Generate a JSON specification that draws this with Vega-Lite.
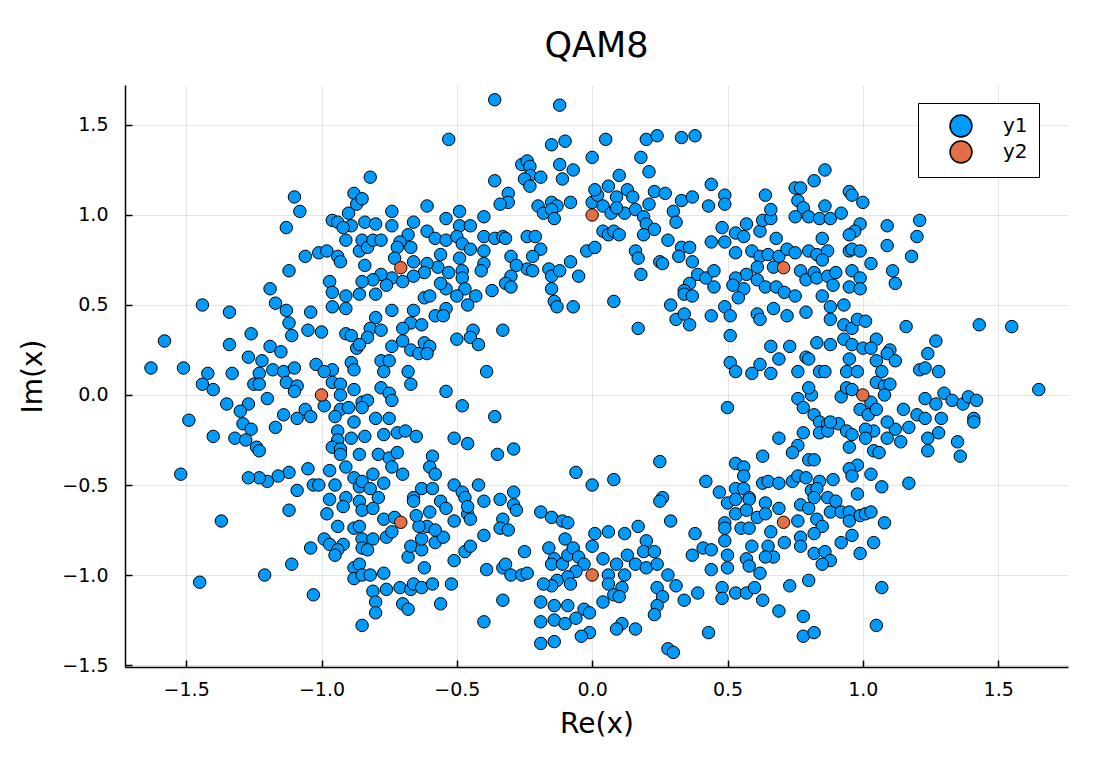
{
"$schema":"https://vega.github.io/schema/vega-lite/v6.json",
"width":943,"height":582,
"autosize":"none",
"padding":{"left":125,"top":85,"right":40,"bottom":98},
"background":"white",
"config":{"view":{"stroke":null},"font":"DejaVu Sans"},
"title":{"text":"QAM8","fontSize":35,"fontWeight":"normal","font":"DejaVu Sans","color":"black","anchor":"middle","baseline":"alphabetic","offset":-7},
"datasets":{
"noisy":[
{"re":-1.10,"im":1.10},{"re":-1.08,"im":1.02},{"re":-1.13,"im":0.93},{"re":-0.96,"im":0.97},{"re":-0.94,"im":0.96},{"re":-0.90,"im":1.01},{"re":-0.88,"im":1.12},{"re":-0.87,"im":1.06},{"re":-0.89,"im":0.94},{"re":-0.92,"im":0.93},{"re":-0.91,"im":0.86},{"re":-0.86,"im":0.80},{"re":-0.85,"im":0.86},{"re":-1.06,"im":0.77},{"re":-1.01,"im":0.79},{"re":-0.98,"im":0.80},{"re":-0.94,"im":0.77},{"re":-0.93,"im":0.74},{"re":-1.12,"im":0.69},{"re":-0.97,"im":0.63},{"re":-0.96,"im":0.57},{"re":-0.91,"im":0.55},{"re":-0.96,"im":0.49},{"re":-0.91,"im":0.48},{"re":-1.19,"im":0.59},{"re":-1.17,"im":0.51},{"re":-1.13,"im":0.47},{"re":-1.12,"im":0.40},{"re":-1.11,"im":0.33},{"re":-1.04,"im":0.46},{"re":-1.05,"im":0.36},{"re":-1.00,"im":0.35},{"re":-1.44,"im":0.50},{"re":-1.34,"im":0.46},{"re":-1.58,"im":0.30},{"re":-1.26,"im":0.34},{"re":-1.34,"im":0.28},{"re":-1.27,"im":0.21},{"re":-1.22,"im":0.19},{"re":-1.19,"im":0.27},{"re":-1.15,"im":0.24},{"re":-1.63,"im":0.15},{"re":-1.51,"im":0.15},{"re":-1.42,"im":0.12},{"re":-1.33,"im":0.12},{"re":-1.23,"im":0.12},{"re":-1.18,"im":0.14},{"re":-1.14,"im":0.13},{"re":-1.10,"im":0.15},{"re":-1.02,"im":0.17},{"re":-0.96,"im":0.14},{"re":-0.99,"im":0.13},{"re":-0.91,"im":0.34},{"re":-0.89,"im":0.33},{"re":-0.87,"im":0.26},{"re":-0.89,"im":0.18},{"re":-0.88,"im":0.14},
{"re":-0.36,"im":1.64},{"re":-0.12,"im":1.61},{"re":-0.53,"im":1.42},{"re":-0.15,"im":1.39},{"re":-0.10,"im":1.41},{"re":0.00,"im":1.32},{"re":-0.26,"im":1.28},{"re":-0.24,"im":1.30},{"re":-0.23,"im":1.27},{"re":-0.12,"im":1.28},{"re":-0.07,"im":1.25},{"re":-0.23,"im":1.22},{"re":-0.19,"im":1.21},{"re":-0.11,"im":1.20},{"re":-0.25,"im":1.20},{"re":-0.23,"im":1.16},{"re":-0.36,"im":1.19},{"re":-0.82,"im":1.21},{"re":-0.31,"im":1.12},{"re":-0.31,"im":1.07},{"re":-0.34,"im":1.06},{"re":-0.20,"im":1.05},{"re":-0.18,"im":1.01},{"re":-0.15,"im":1.07},{"re":-0.13,"im":1.05},{"re":-0.15,"im":1.03},{"re":-0.14,"im":0.98},{"re":-0.08,"im":1.07},{"re":0.00,"im":1.07},{"re":0.02,"im":1.11},{"re":-0.85,"im":1.09},{"re":-0.74,"im":1.02},{"re":-0.61,"im":1.05},{"re":-0.54,"im":0.98},{"re":-0.49,"im":1.02},{"re":-0.40,"im":0.99},{"re":-0.84,"im":0.96},{"re":-0.80,"im":0.95},{"re":-0.74,"im":0.94},{"re":-0.66,"im":0.96},{"re":-0.68,"im":0.89},{"re":-0.61,"im":0.91},{"re":-0.58,"im":0.87},{"re":-0.49,"im":0.94},{"re":-0.45,"im":0.94},{"re":-0.54,"im":0.86},{"re":-0.50,"im":0.88},{"re":-0.48,"im":0.84},{"re":-0.45,"im":0.81},{"re":-0.40,"im":0.88},{"re":-0.40,"im":0.80},{"re":-0.36,"im":0.87},{"re":-0.33,"im":0.88},{"re":-0.32,"im":0.87},{"re":-0.24,"im":0.88},{"re":-0.21,"im":0.88},{"re":-0.19,"im":0.81},{"re":-0.22,"im":0.77},{"re":-0.24,"im":0.70},{"re":-0.22,"im":0.69},{"re":-0.30,"im":0.77},{"re":-0.28,"im":0.72},{"re":-0.30,"im":0.66},{"re":-0.32,"im":0.62},{"re":-0.30,"im":0.60},{"re":-0.37,"im":0.58},{"re":-0.40,"im":0.73},{"re":-0.41,"im":0.69},{"re":-0.49,"im":0.76},{"re":-0.56,"im":0.78},{"re":-0.57,"im":0.71},{"re":-0.53,"im":0.68},{"re":-0.48,"im":0.69},{"re":-0.48,"im":0.65},{"re":-0.47,"im":0.59},{"re":-0.50,"im":0.55},{"re":-0.46,"im":0.50},{"re":-0.43,"im":0.55},{"re":-0.54,"im":0.59},{"re":-0.56,"im":0.62},{"re":-0.61,"im":0.73},{"re":-0.62,"im":0.68},{"re":-0.66,"im":0.66},{"re":-0.67,"im":0.82},{"re":-0.71,"im":0.85},{"re":-0.72,"im":0.82},{"re":-0.73,"im":0.76},{"re":-0.66,"im":0.74},{"re":-0.74,"im":0.65},{"re":-0.70,"im":0.63},{"re":-0.76,"im":0.61},{"re":-0.78,"im":0.67},{"re":-0.81,"im":0.64},{"re":-0.85,"im":0.63},{"re":-0.86,"im":0.56},{"re":-0.80,"im":0.56},{"re":-0.84,"im":0.72},{"re":-0.83,"im":0.82},{"re":-0.81,"im":0.86},{"re":-0.78,"im":0.86},{"re":-0.16,"im":0.70},{"re":-0.15,"im":0.66},{"re":-0.12,"im":0.69},{"re":-0.15,"im":0.59},{"re":-0.14,"im":0.52},{"re":-0.13,"im":0.49},{"re":-0.08,"im":0.74},{"re":-0.05,"im":0.66},{"re":-0.07,"im":0.49},{"re":-0.02,"im":0.80},{"re":0.01,"im":0.82},{"re":-0.62,"im":0.54},{"re":-0.60,"im":0.55},{"re":-0.74,"im":0.47},{"re":-0.66,"im":0.47},{"re":-0.67,"im":0.40},{"re":-0.63,"im":0.39},{"re":-0.70,"im":0.37},{"re":-0.58,"im":0.44},{"re":-0.54,"im":0.48},{"re":-0.55,"im":0.44},{"re":-0.80,"im":0.43},{"re":-0.82,"im":0.37},{"re":-0.78,"im":0.36},{"re":-0.83,"im":0.32},{"re":-0.86,"im":0.28},{"re":-0.74,"im":0.27},{"re":-0.70,"im":0.30},{"re":-0.67,"im":0.25},{"re":-0.62,"im":0.29},{"re":-0.60,"im":0.27},{"re":-0.64,"im":0.23},{"re":-0.61,"im":0.23},{"re":-0.78,"im":0.19},{"re":-0.75,"im":0.19},{"re":-0.77,"im":0.13},{"re":-0.68,"im":0.13},{"re":-0.50,"im":0.31},{"re":-0.44,"im":0.36},{"re":-0.45,"im":0.32},{"re":-0.42,"im":0.28},{"re":-0.33,"im":0.36},{"re":-0.39,"im":0.13},
{"re":0.05,"im":1.42},{"re":0.20,"im":1.42},{"re":0.24,"im":1.44},{"re":0.33,"im":1.43},{"re":0.38,"im":1.44},{"re":0.18,"im":1.32},{"re":0.21,"im":1.24},{"re":0.10,"im":1.22},{"re":0.01,"im":1.14},{"re":0.06,"im":1.16},{"re":0.09,"im":1.10},{"re":0.13,"im":1.14},{"re":0.15,"im":1.10},{"re":0.04,"im":1.05},{"re":0.07,"im":1.01},{"re":0.12,"im":1.01},{"re":0.09,"im":1.04},{"re":0.16,"im":1.03},{"re":0.21,"im":1.06},{"re":0.19,"im":0.99},{"re":0.20,"im":0.95},{"re":0.23,"im":1.13},{"re":0.27,"im":1.12},{"re":0.33,"im":1.08},{"re":0.37,"im":1.10},{"re":0.30,"im":1.02},{"re":0.31,"im":0.96},{"re":0.04,"im":0.91},{"re":0.06,"im":0.89},{"re":0.08,"im":0.91},{"re":0.10,"im":0.89},{"re":0.19,"im":0.89},{"re":0.23,"im":0.92},{"re":0.28,"im":0.86},{"re":0.33,"im":0.82},{"re":0.36,"im":0.82},{"re":0.32,"im":0.77},{"re":0.16,"im":0.80},{"re":0.17,"im":0.76},{"re":0.25,"im":0.74},{"re":0.26,"im":0.73},{"re":0.18,"im":0.67},{"re":0.37,"im":0.74},{"re":0.39,"im":0.67},{"re":0.36,"im":0.62},{"re":0.34,"im":0.58},{"re":0.34,"im":0.56},{"re":0.37,"im":0.55},{"re":0.42,"im":0.65},{"re":0.45,"im":0.69},{"re":0.45,"im":0.60},{"re":0.08,"im":0.52},{"re":0.29,"im":0.50},{"re":0.31,"im":0.42},{"re":0.34,"im":0.45},{"re":0.36,"im":0.39},{"re":0.17,"im":0.37},{"re":0.44,"im":1.17},{"re":0.43,"im":1.05},{"re":0.49,"im":1.11},{"re":0.49,"im":1.06},{"re":0.44,"im":0.85},{"re":0.48,"im":0.93},{"re":0.49,"im":0.85},{"re":0.53,"im":0.79},{"re":0.53,"im":0.90},{"re":0.56,"im":0.88},{"re":0.57,"im":0.95},{"re":0.62,"im":0.91},{"re":0.63,"im":0.97},{"re":0.66,"im":0.98},{"re":0.66,"im":1.03},{"re":0.64,"im":1.11},{"re":0.68,"im":0.87},{"re":0.59,"im":0.80},{"re":0.62,"im":0.77},{"re":0.65,"im":0.78},{"re":0.69,"im":0.77},{"re":0.72,"im":0.81},{"re":0.75,"im":0.79},{"re":0.80,"im":0.80},{"re":0.83,"im":0.78},{"re":0.87,"im":0.80},{"re":0.85,"im":0.75},{"re":0.61,"im":0.71},{"re":0.67,"im":0.71},{"re":0.57,"im":0.67},{"re":0.61,"im":0.64},{"re":0.53,"im":0.65},{"re":0.56,"im":0.59},{"re":0.54,"im":0.54},{"re":0.52,"im":0.61},{"re":0.64,"im":0.60},{"re":0.68,"im":0.60},{"re":0.71,"im":0.57},{"re":0.75,"im":0.55},{"re":0.77,"im":0.69},{"re":0.79,"im":0.64},{"re":0.82,"im":0.68},{"re":0.83,"im":0.65},{"re":0.87,"im":0.66},{"re":0.89,"im":0.61},{"re":0.85,"im":0.55},{"re":0.49,"im":0.49},{"re":0.51,"im":0.44},{"re":0.44,"im":0.44},{"re":0.51,"im":0.33},{"re":0.61,"im":0.45},{"re":0.62,"im":0.42},{"re":0.67,"im":0.48},{"re":0.72,"im":0.44},{"re":0.79,"im":0.46},{"re":0.88,"im":0.49},{"re":0.88,"im":0.42},{"re":0.66,"im":0.27},{"re":0.69,"im":0.20},{"re":0.73,"im":0.27},{"re":0.79,"im":0.21},{"re":0.80,"im":0.20},{"re":0.83,"im":0.29},{"re":0.88,"im":0.28},{"re":0.51,"im":0.18},{"re":0.53,"im":0.13},{"re":0.62,"im":0.17},{"re":0.59,"im":0.12},{"re":0.66,"im":0.12},{"re":0.76,"im":0.13},{"re":0.84,"im":0.13},{"re":0.86,"im":0.13},{"re":0.75,"im":1.15},{"re":0.77,"im":1.15},{"re":0.76,"im":1.08},{"re":0.78,"im":1.04},{"re":0.75,"im":0.99},{"re":0.80,"im":0.99},{"re":0.82,"im":1.19},{"re":0.86,"im":1.25},{"re":0.86,"im":1.05},{"re":0.84,"im":0.98},{"re":0.88,"im":0.98},{"re":0.85,"im":0.87},
{"re":0.95,"im":1.13},{"re":0.96,"im":1.11},{"re":1.00,"im":1.07},{"re":0.92,"im":1.01},{"re":0.99,"im":0.95},{"re":0.97,"im":0.91},{"re":0.95,"im":0.89},{"re":1.09,"im":0.94},{"re":1.21,"im":0.97},{"re":1.20,"im":0.88},{"re":1.09,"im":0.83},{"re":1.18,"im":0.77},{"re":0.95,"im":0.80},{"re":0.96,"im":0.81},{"re":0.99,"im":0.80},{"re":1.03,"im":0.73},{"re":1.11,"im":0.69},{"re":1.12,"im":0.62},{"re":0.90,"im":0.68},{"re":0.96,"im":0.69},{"re":0.99,"im":0.65},{"re":0.95,"im":0.60},{"re":0.99,"im":0.59},{"re":0.93,"im":0.50},{"re":0.93,"im":0.39},{"re":0.96,"im":0.37},{"re":0.98,"im":0.42},{"re":1.01,"im":0.41},{"re":1.16,"im":0.38},{"re":1.43,"im":0.39},{"re":1.55,"im":0.38},{"re":1.27,"im":0.30},{"re":1.24,"im":0.23},{"re":1.05,"im":0.31},{"re":0.93,"im":0.31},{"re":0.96,"im":0.28},{"re":1.00,"im":0.26},{"re":1.03,"im":0.26},{"re":1.10,"im":0.25},{"re":1.09,"im":0.23},{"re":1.12,"im":0.19},{"re":1.05,"im":0.19},{"re":0.95,"im":0.20},{"re":0.94,"im":0.13},{"re":0.98,"im":0.13},{"re":1.07,"im":0.13},{"re":1.21,"im":0.14},{"re":1.23,"im":0.15},{"re":1.28,"im":0.13},
{"re":-1.44,"im":0.06},{"re":-1.40,"im":0.03},{"re":-1.35,"im":-0.05},{"re":-1.25,"im":0.06},{"re":-1.23,"im":0.06},{"re":-1.20,"im":-0.02},{"re":-1.13,"im":0.07},{"re":-1.09,"im":0.05},{"re":-1.10,"im":0.02},{"re":-1.27,"im":-0.05},{"re":-1.30,"im":-0.09},{"re":-1.29,"im":-0.16},{"re":-1.26,"im":-0.19},{"re":-1.49,"im":-0.14},{"re":-1.40,"im":-0.23},{"re":-1.32,"im":-0.24},{"re":-1.28,"im":-0.25},{"re":-1.24,"im":-0.29},{"re":-1.23,"im":-0.31},{"re":-1.17,"im":-0.18},{"re":-1.14,"im":-0.11},{"re":-1.09,"im":-0.13},{"re":-1.06,"im":-0.08},{"re":-1.04,"im":-0.12},{"re":-0.99,"im":-0.06},{"re":-0.96,"im":0.07},{"re":-0.93,"im":0.06},{"re":-0.88,"im":0.03},{"re":-0.93,"im":0.00},{"re":-0.93,"im":-0.08},{"re":-0.90,"im":-0.07},{"re":-0.95,"im":-0.12},{"re":-0.88,"im":-0.15},{"re":-0.94,"im":-0.20},{"re":-0.94,"im":-0.25},{"re":-0.96,"im":-0.29},{"re":-0.93,"im":-0.30},{"re":-0.93,"im":-0.33},{"re":-0.89,"im":-0.24},{"re":-0.86,"im":-0.33},{"re":-0.91,"im":-0.40},{"re":-0.97,"im":-0.42},{"re":-1.05,"im":-0.41},{"re":-1.12,"im":-0.43},{"re":-1.16,"im":-0.45},{"re":-1.20,"im":-0.48},{"re":-1.23,"im":-0.46},{"re":-1.27,"im":-0.46},{"re":-1.52,"im":-0.44},{"re":-1.03,"im":-0.50},{"re":-1.01,"im":-0.50},{"re":-0.95,"im":-0.50},{"re":-1.09,"im":-0.53},{"re":-0.88,"im":-0.46},{"re":-0.86,"im":-0.51},{"re":-0.91,"im":-0.57},{"re":-0.97,"im":-0.58},{"re":-0.92,"im":-0.62},{"re":-0.86,"im":-0.59},{"re":-0.85,"im":-0.64},{"re":-1.12,"im":-0.64},{"re":-0.98,"im":-0.66},{"re":-0.94,"im":-0.73},{"re":-0.88,"im":-0.74},{"re":-0.86,"im":-0.73},{"re":-0.85,"im":-0.80},{"re":-0.99,"im":-0.80},{"re":-0.97,"im":-0.83},{"re":-0.92,"im":-0.83},{"re":-0.94,"im":-0.86},{"re":-0.95,"im":-0.89},{"re":-1.04,"im":-0.85},{"re":-0.85,"im":-0.85},{"re":-1.37,"im":-0.70},{"re":-1.11,"im":-0.94},{"re":-1.21,"im":-1.00},{"re":-1.45,"im":-1.04},{"re":-1.03,"im":-1.11},{"re":-0.88,"im":-0.96},{"re":-0.86,"im":-0.94},{"re":-0.88,"im":-1.02},{"re":-0.85,"im":-1.00},{"re":-0.85,"im":-1.28},
{"re":-0.67,"im":0.06},{"re":-0.78,"im":0.04},{"re":-0.75,"im":0.01},{"re":-0.74,"im":-0.03},{"re":-0.85,"im":-0.04},{"re":-0.83,"im":-0.03},{"re":-0.85,"im":-0.07},{"re":-0.54,"im":0.02},{"re":-0.48,"im":-0.06},{"re":-0.36,"im":-0.12},{"re":-0.80,"im":-0.13},{"re":-0.75,"im":-0.13},{"re":-0.84,"im":-0.23},{"re":-0.77,"im":-0.22},{"re":-0.72,"im":-0.21},{"re":-0.69,"im":-0.20},{"re":-0.65,"im":-0.23},{"re":-0.51,"im":-0.24},{"re":-0.46,"im":-0.27},{"re":-0.35,"im":-0.33},{"re":-0.29,"im":-0.30},{"re":-0.79,"im":-0.33},{"re":-0.75,"im":-0.35},{"re":-0.72,"im":-0.32},{"re":-0.74,"im":-0.40},{"re":-0.70,"im":-0.44},{"re":-0.59,"im":-0.34},{"re":-0.60,"im":-0.40},{"re":-0.58,"im":-0.44},{"re":-0.81,"im":-0.44},{"re":-0.77,"im":-0.49},{"re":-0.85,"im":-0.48},{"re":-0.82,"im":-0.52},{"re":-0.79,"im":-0.57},{"re":-0.81,"im":-0.63},{"re":-0.77,"im":-0.69},{"re":-0.73,"im":-0.68},{"re":-0.81,"im":-0.80},{"re":-0.76,"im":-0.79},{"re":-0.74,"im":-0.76},{"re":-0.83,"im":-0.86},{"re":-0.82,"im":-1.00},{"re":-0.77,"im":-0.99},{"re":-0.81,"im":-1.09},{"re":-0.76,"im":-1.08},{"re":-0.71,"im":-1.07},{"re":-0.67,"im":-1.08},{"re":-0.70,"im":-1.16},{"re":-0.68,"im":-1.19},{"re":-0.80,"im":-1.15},{"re":-0.80,"im":-1.21},{"re":-0.66,"im":-1.05},{"re":-0.63,"im":-1.07},{"re":-0.59,"im":-1.05},{"re":-0.56,"im":-1.16},{"re":-0.52,"im":-1.05},{"re":-0.62,"im":-0.96},{"re":-0.68,"im":-0.90},{"re":-0.67,"im":-0.84},{"re":-0.63,"im":-0.86},{"re":-0.58,"im":-0.82},{"re":-0.55,"im":-0.79},{"re":-0.63,"im":-0.80},{"re":-0.61,"im":-0.73},{"re":-0.58,"im":-0.75},{"re":-0.64,"im":-0.73},{"re":-0.65,"im":-0.67},{"re":-0.60,"im":-0.65},{"re":-0.66,"im":-0.57},{"re":-0.66,"im":-0.59},{"re":-0.63,"im":-0.52},{"re":-0.59,"im":-0.52},{"re":-0.56,"im":-0.59},{"re":-0.54,"im":-0.63},{"re":-0.51,"im":-0.50},{"re":-0.48,"im":-0.54},{"re":-0.47,"im":-0.57},{"re":-0.51,"im":-0.70},{"re":-0.46,"im":-0.66},{"re":-0.45,"im":-0.69},{"re":-0.46,"im":-0.62},{"re":-0.42,"im":-0.50},{"re":-0.40,"im":-0.59},{"re":-0.34,"im":-0.58},{"re":-0.29,"im":-0.54},{"re":-0.29,"im":-0.61},{"re":-0.28,"im":-0.64},{"re":-0.33,"im":-0.69},{"re":-0.34,"im":-0.74},{"re":-0.31,"im":-0.75},{"re":-0.40,"im":-0.78},{"re":-0.47,"im":-0.87},{"re":-0.45,"im":-0.84},{"re":-0.51,"im":-0.92},{"re":-0.39,"im":-0.97},{"re":-0.33,"im":-0.96},{"re":-0.32,"im":-0.94},{"re":-0.30,"im":-1.00},{"re":-0.26,"im":-1.00},{"re":-0.24,"im":-0.99},{"re":-0.25,"im":-0.87},{"re":-0.33,"im":-1.14},{"re":-0.40,"im":-1.26},{"re":-0.06,"im":-0.43},{"re":0.00,"im":-0.50},{"re":-0.19,"im":-0.65},{"re":-0.15,"im":-0.68},{"re":-0.11,"im":-0.70},{"re":-0.09,"im":-0.71},{"re":-0.10,"im":-0.80},{"re":-0.16,"im":-0.85},{"re":-0.14,"im":-0.91},{"re":-0.15,"im":-0.94},{"re":-0.11,"im":-0.94},{"re":-0.09,"im":-0.89},{"re":-0.07,"im":-0.85},{"re":-0.05,"im":-0.90},{"re":-0.03,"im":-0.94},{"re":0.01,"im":-0.77},{"re":0.00,"im":-0.84},{"re":-0.06,"im":-0.98},{"re":-0.09,"im":-1.01},{"re":-0.13,"im":-1.03},{"re":-0.15,"im":-1.06},{"re":-0.18,"im":-1.05},{"re":-0.08,"im":-1.05},{"re":-0.19,"im":-1.15},{"re":-0.14,"im":-1.17},{"re":-0.09,"im":-1.17},{"re":-0.19,"im":-1.26},{"re":-0.14,"im":-1.25},{"re":-0.10,"im":-1.27},{"re":-0.06,"im":-1.24},{"re":-0.03,"im":-1.19},{"re":-0.01,"im":-1.21},{"re":-0.01,"im":-1.32},{"re":-0.04,"im":-1.34},{"re":-0.19,"im":-1.38},{"re":-0.14,"im":-1.37},
{"re":0.50,"im":-0.07},{"re":0.76,"im":-0.02},{"re":0.78,"im":-0.07},{"re":0.81,"im":0.00},{"re":0.80,"im":0.04},{"re":0.82,"im":-0.11},{"re":0.84,"im":-0.15},{"re":0.87,"im":-0.16},{"re":0.78,"im":-0.21},{"re":0.84,"im":-0.21},{"re":0.87,"im":-0.20},{"re":0.69,"im":-0.24},{"re":0.76,"im":-0.28},{"re":0.74,"im":-0.32},{"re":0.63,"im":-0.34},{"re":0.80,"im":-0.36},{"re":0.82,"im":-0.36},{"re":0.25,"im":-0.37},{"re":0.53,"im":-0.38},{"re":0.56,"im":-0.40},{"re":0.56,"im":-0.45},{"re":0.08,"im":-0.47},{"re":0.42,"im":-0.48},{"re":0.47,"im":-0.54},{"re":0.53,"im":-0.52},{"re":0.56,"im":-0.52},{"re":0.58,"im":-0.57},{"re":0.63,"im":-0.49},{"re":0.65,"im":-0.48},{"re":0.69,"im":-0.49},{"re":0.74,"im":-0.48},{"re":0.76,"im":-0.45},{"re":0.79,"im":-0.46},{"re":0.84,"im":-0.48},{"re":0.89,"im":-0.47},{"re":0.81,"im":-0.53},{"re":0.83,"im":-0.52},{"re":0.82,"im":-0.57},{"re":0.87,"im":-0.57},{"re":0.26,"im":-0.57},{"re":0.25,"im":-0.59},{"re":0.50,"im":-0.60},{"re":0.53,"im":-0.58},{"re":0.58,"im":-0.58},{"re":0.53,"im":-0.66},{"re":0.57,"im":-0.64},{"re":0.61,"im":-0.68},{"re":0.64,"im":-0.60},{"re":0.64,"im":-0.66},{"re":0.69,"im":-0.63},{"re":0.77,"im":-0.61},{"re":0.76,"im":-0.70},{"re":0.80,"im":-0.63},{"re":0.83,"im":-0.69},{"re":0.85,"im":-0.73},{"re":0.82,"im":-0.77},{"re":0.88,"im":-0.65},{"re":0.29,"im":-0.70},{"re":0.49,"im":-0.71},{"re":0.49,"im":-0.74},{"re":0.55,"im":-0.74},{"re":0.58,"im":-0.74},{"re":0.66,"im":-0.76},{"re":0.71,"im":-0.82},{"re":0.77,"im":-0.79},{"re":0.77,"im":-0.84},{"re":0.49,"im":-0.81},{"re":0.59,"im":-0.84},{"re":0.65,"im":-0.84},{"re":0.67,"im":-0.90},{"re":0.64,"im":-0.90},{"re":0.82,"im":-0.88},{"re":0.86,"im":-0.87},{"re":0.88,"im":-0.92},{"re":0.85,"im":-0.94},{"re":0.50,"im":-0.89},{"re":0.57,"im":-0.91},{"re":0.58,"im":-0.95},{"re":0.62,"im":-0.99},{"re":0.50,"im":-0.96},{"re":0.44,"im":-0.97},{"re":0.38,"im":-0.77},{"re":0.41,"im":-0.85},{"re":0.44,"im":-0.86},{"re":0.37,"im":-0.89},{"re":0.48,"im":-1.07},{"re":0.48,"im":-1.13},{"re":0.53,"im":-1.10},{"re":0.57,"im":-1.10},{"re":0.60,"im":-1.07},{"re":0.63,"im":-1.14},{"re":0.73,"im":-1.06},{"re":0.80,"im":-1.03},{"re":0.69,"im":-1.20},{"re":0.78,"im":-1.23},{"re":0.78,"im":-1.34},{"re":0.82,"im":-1.32},{"re":0.39,"im":-1.10},{"re":0.43,"im":-1.32},{"re":0.28,"im":-1.41},{"re":0.30,"im":-1.43},{"re":0.34,"im":-1.14},{"re":0.31,"im":-1.06},{"re":0.28,"im":-1.00},{"re":0.24,"im":-1.07},{"re":0.26,"im":-1.12},{"re":0.24,"im":-1.17},{"re":0.23,"im":-1.22},{"re":0.11,"im":-1.27},{"re":0.09,"im":-1.30},{"re":0.16,"im":-1.30},{"re":0.06,"im":-0.76},{"re":0.12,"im":-0.77},{"re":0.17,"im":-0.73},{"re":0.04,"im":-0.91},{"re":0.09,"im":-0.94},{"re":0.06,"im":-1.00},{"re":0.12,"im":-1.00},{"re":0.13,"im":-0.89},{"re":0.16,"im":-0.94},{"re":0.20,"im":-0.81},{"re":0.19,"im":-0.87},{"re":0.23,"im":-0.87},{"re":0.20,"im":-0.96},{"re":0.24,"im":-0.94},{"re":0.06,"im":-1.05},{"re":0.11,"im":-1.07},{"re":0.08,"im":-1.11},{"re":0.10,"im":-1.12},{"re":0.04,"im":-1.15},
{"re":1.65,"im":0.03},{"re":0.92,"im":-0.01},{"re":0.94,"im":0.04},{"re":0.96,"im":0.03},{"re":1.05,"im":0.07},{"re":1.08,"im":0.05},{"re":1.10,"im":0.06},{"re":1.08,"im":0.00},{"re":1.03,"im":-0.04},{"re":0.99,"im":-0.08},{"re":1.02,"im":-0.11},{"re":1.05,"im":-0.08},{"re":1.15,"im":-0.08},{"re":1.20,"im":-0.11},{"re":1.23,"im":-0.13},{"re":1.23,"im":-0.02},{"re":1.27,"im":-0.05},{"re":1.30,"im":0.01},{"re":1.33,"im":-0.03},{"re":1.37,"im":-0.05},{"re":1.39,"im":-0.01},{"re":1.42,"im":-0.03},{"re":1.41,"im":-0.13},{"re":1.41,"im":-0.15},{"re":1.29,"im":-0.13},{"re":1.28,"im":-0.21},{"re":1.35,"im":-0.26},{"re":1.36,"im":-0.34},{"re":1.24,"im":-0.24},{"re":1.24,"im":-0.31},{"re":1.17,"im":-0.18},{"re":1.14,"im":-0.26},{"re":1.12,"im":-0.19},{"re":1.09,"im":-0.15},{"re":1.09,"im":-0.24},{"re":1.04,"im":-0.20},{"re":1.01,"im":-0.19},{"re":1.01,"im":-0.24},{"re":1.04,"im":-0.31},{"re":1.06,"im":-0.32},{"re":0.95,"im":-0.29},{"re":0.91,"im":-0.16},{"re":0.88,"im":-0.15},{"re":0.94,"im":-0.20},{"re":0.96,"im":-0.22},{"re":1.17,"im":-0.49},{"re":1.07,"im":-0.51},{"re":1.03,"im":-0.44},{"re":0.98,"im":-0.39},{"re":0.95,"im":-0.41},{"re":0.96,"im":-0.45},{"re":0.98,"im":-0.55},{"re":0.90,"im":-0.59},{"re":0.92,"im":-0.65},{"re":0.95,"im":-0.65},{"re":0.95,"im":-0.70},{"re":0.99,"im":-0.67},{"re":1.01,"im":-0.66},{"re":1.03,"im":-0.65},{"re":1.08,"im":-0.71},{"re":0.96,"im":-0.78},{"re":0.92,"im":-0.82},{"re":1.04,"im":-0.82},{"re":0.99,"im":-0.88},{"re":1.07,"im":-1.07},{"re":1.05,"im":-1.28}
],
"ideal":[
{"re":1,"im":0},{"re":0.7071,"im":0.7071},{"re":0,"im":1},{"re":-0.7071,"im":0.7071},{"re":-1,"im":0},{"re":-0.7071,"im":-0.7071},{"re":0,"im":-1},{"re":0.7071,"im":-0.7071}
]
},
"encoding":{
"x":{"field":"re","type":"quantitative","scale":{"domain":[-1.726,1.758],"nice":false,"zero":false},
 "axis":{"values":[-1.5,-1,-0.5,0,0.5,1,1.5],"format":".1f","title":"Re(x)","grid":true,"gridColor":"#000000","gridOpacity":0.1,"gridWidth":1,"domainColor":"#000000","domainWidth":1.5,"tickColor":"#000000","tickWidth":1.5,"tickSize":-7,"labelFontSize":19,"labelColor":"#000000","labelPadding":20,"labelFont":"DejaVu Sans","titleFont":"DejaVu Sans","titleFontSize":28,"titleFontWeight":"normal","titleColor":"#000000","titlePadding":11}},
"y":{"field":"im","type":"quantitative","scale":{"domain":[-1.511,1.722],"nice":false,"zero":false},
 "axis":{"values":[-1.5,-1,-0.5,0,0.5,1,1.5],"format":".1f","title":"Im(x)","grid":true,"gridColor":"#000000","gridOpacity":0.1,"gridWidth":1,"domainColor":"#000000","domainWidth":1.5,"tickColor":"#000000","tickWidth":1.5,"tickSize":-7,"labelFontSize":19,"labelColor":"#000000","labelPadding":24,"labelFont":"DejaVu Sans","titleFont":"DejaVu Sans","titleFontSize":28,"titleFontWeight":"normal","titleColor":"#000000","titlePadding":14}}
},
"layer":[
{"data":{"name":"noisy"},
 "mark":{"type":"point","shape":"circle","filled":true,"stroke":"#000000","strokeWidth":1,"size":155,"opacity":1},
 "encoding":{"color":{"datum":"y1","scale":{"domain":["y1","y2"],"range":["#009AFA","#E36F47"]},
  "legend":{"title":null,"orient":"none","legendX":793,"legendY":18,"padding":11,"fillColor":"white","strokeColor":"black","symbolType":"circle","symbolSize":480,"symbolStrokeColor":"black","symbolStrokeWidth":1.5,"symbolOpacity":1,"symbolOffset":20,"labelOffset":30,"labelFontSize":20,"labelFont":"DejaVu Sans","labelColor":"#000000","rowPadding":-5}}}},
{"data":{"name":"ideal"},
 "mark":{"type":"point","shape":"circle","filled":true,"stroke":"#000000","strokeWidth":1,"size":155,"opacity":1},
 "encoding":{"color":{"datum":"y2"}}}
]
}
